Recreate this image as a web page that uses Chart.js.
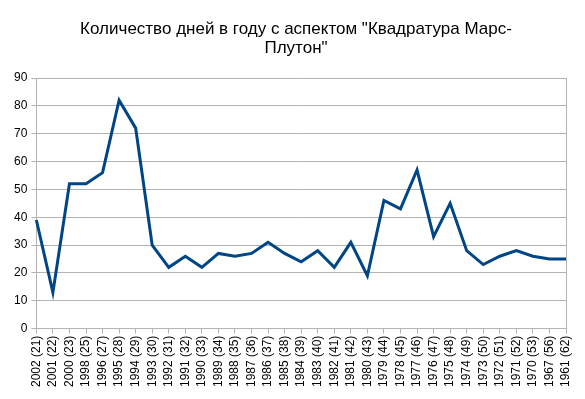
<!DOCTYPE html>
<html>
<head>
<meta charset="utf-8">
<script src="https://cdn.jsdelivr.net/npm/chart.js@4"></script>
<style>
  body { margin: 0; background: #fff; }
  canvas { display: block; }
</style>
</head>
<body>
<canvas id="chart" width="585" height="399"></canvas>
<script>
// данные графика
var years = ['2002 (21)', '2001 (22)', '2000 (23)', '1998 (25)', '1996 (27)', '1995 (28)', '1994 (29)',
    '1993 (30)', '1992 (31)', '1991 (32)', '1990 (33)', '1989 (34)', '1988 (35)', '1987 (36)',
    '1986 (37)', '1985 (38)', '1984 (39)', '1983 (40)', '1982 (41)', '1981 (42)', '1980 (43)',
    '1979 (44)', '1978 (45)', '1977 (46)', '1976 (47)', '1975 (48)', '1974 (49)', '1973 (50)',
    '1972 (51)', '1971 (52)', '1970 (53)', '1967 (56)', '1961 (62)'];
var days = [39, 13, 52, 52, 56, 82, 72, 30, 22, 26, 22, 27, 26, 27, 31, 27, 24, 28, 22, 31, 19,
    46, 43, 57, 33, 45, 28, 23, 26, 28, 26, 25, 25];
var titleLines = ['Количество дней в году с аспектом "Квадратура Марс-', 'Плутон"'];

Chart.defaults.font.family = '"Liberation Sans", Arial, sans-serif';
Chart.defaults.color = '#000';

// сдвигаем заголовок, чтобы он был по центру как в оригинале
var titleShift = {
    id: 'titleShift',
    afterLayout: function (chart) {
        if (chart.titleBlock) chart.titleBlock.left = 26;
    }
};

document.addEventListener('DOMContentLoaded', function () {
    var ctx = document.getElementById('chart').getContext('2d');
    new Chart(ctx, {
        type: 'line',
        data: {
            labels: years,
            datasets: [{
                data: days,
                borderColor: '#004586',
                borderWidth: 3,
                pointRadius: 0,
                tension: 0,
                fill: false
            }]
        },
        options: {
            responsive: false,
            animation: false,
            layout: { padding: { left: 10, right: 19, top: 10, bottom: 10 } },
            plugins: {
                legend: { display: false },
                tooltip: { enabled: false },
                title: {
                    display: true,
                    text: titleLines,
                    font: { size: 17, weight: 'normal', lineHeight: 19 / 17 },
                    color: '#000',
                    padding: { top: 10, bottom: 20 }
                }
            },
            scales: {
                x: {
                    offset: false,
                    grid: {
                        color: function (c) { return c.index === years.length - 1 ? '#b3b3b3' : 'rgba(0,0,0,0)'; },
                        tickColor: '#b3b3b3',
                        tickLength: 5
                    },
                    border: { color: '#b3b3b3' },
                    ticks: {
                        autoSkip: false,
                        minRotation: 90,
                        maxRotation: 90,
                        font: { size: 12 },
                        padding: 2
                    }
                },
                y: {
                    min: 0,
                    max: 90,
                    grid: { color: '#b3b3b3', tickColor: '#b3b3b3', tickLength: 5 },
                    border: { color: '#b3b3b3' },
                    ticks: { stepSize: 10, font: { size: 12 }, padding: 4 }
                }
            }
        },
        plugins: [titleShift]
    });
});
</script>
</body>
</html>
